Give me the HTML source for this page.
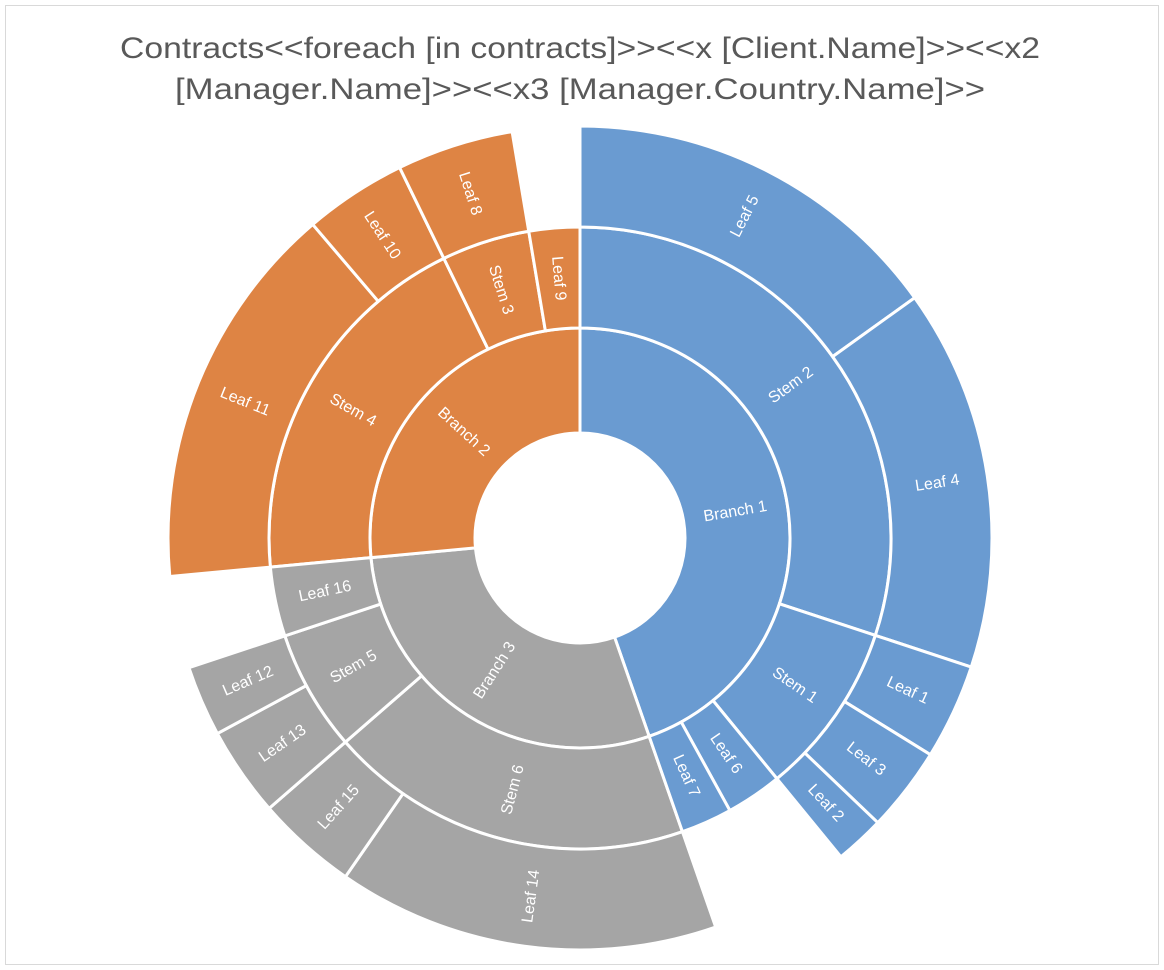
<!DOCTYPE html>
<html><head><meta charset="utf-8"><style>
html,body{margin:0;padding:0;background:#fff;}
svg{display:block;}
text{font-family:"Liberation Sans",sans-serif;}
</style></head><body>
<svg id="chart" width="1164" height="970" viewBox="0 0 1164 970">
<rect x="5.5" y="5.5" width="1153" height="959" fill="#fff" stroke="#d9d9d9"/>
<text x="580" y="58" text-anchor="middle" font-size="30" fill="#595959" textLength="920" lengthAdjust="spacingAndGlyphs">Contracts&lt;&lt;foreach [in contracts]&gt;&gt;&lt;&lt;x [Client.Name]&gt;&gt;&lt;&lt;x2</text>
<text x="580" y="99" text-anchor="middle" font-size="30" fill="#595959" textLength="810" lengthAdjust="spacingAndGlyphs">[Manager.Name]&gt;&gt;&lt;&lt;x3 [Manager.Country.Name]&gt;&gt;</text>
<g id="marks"></g>
</svg>
<script>
const leafNames  = ["Leaf 5","Leaf 4","Leaf 1","Leaf 3","Leaf 2","Leaf 6","Leaf 7","Leaf 14","Leaf 15","Leaf 13","Leaf 12","Leaf 16","Leaf 11","Leaf 10","Leaf 8","Leaf 9"];
const leafValues = [54.4, 54, 13.5, 12, 7, 10.5, 9.6, 54, 14.3, 12.7, 10, 13, 55, 14.5, 16.5, 9.5];
const leafStems  = ["Stem 2","Stem 2","Stem 1","Stem 1","Stem 1",null,null,"Stem 6","Stem 6","Stem 5","Stem 5",null,"Stem 4","Stem 4","Stem 3",null];
const leafBranches = ["Branch 1","Branch 1","Branch 1","Branch 1","Branch 1","Branch 1","Branch 1","Branch 3","Branch 3","Branch 3","Branch 3","Branch 3","Branch 2","Branch 2","Branch 2","Branch 2"];
const branchColors = {"Branch 1":"#6a9bd1","Branch 2":"#de8444","Branch 3":"#a5a5a5"};

const CX=580, CY=538, R=[105,210,311,412];
const svgNS="http://www.w3.org/2000/svg";
const g=document.getElementById('marks');
const total=leafValues.reduce((a,b)=>a+b,0);
const ang=v=>v/total*360;
function pt(r,a){const t=(a-90)*Math.PI/180;return [CX+r*Math.cos(t),CY+r*Math.sin(t)];}
function arcPath(r0,r1,a0,a1){
  const lg=(a1-a0)>180?1:0;
  const p0=pt(r1,a0),p1=pt(r1,a1),p2=pt(r0,a1),p3=pt(r0,a0);
  return `M${p0[0]},${p0[1]}A${r1},${r1} 0 ${lg} 1 ${p1[0]},${p1[1]}L${p2[0]},${p2[1]}A${r0},${r0} 0 ${lg} 0 ${p3[0]},${p3[1]}Z`;
}
function draw(name,level0,level1,a0,a1,color){
  const p=document.createElementNS(svgNS,'path');
  p.setAttribute('d',arcPath(R[level0],R[level1],a0,a1));
  p.setAttribute('fill',color);p.setAttribute('stroke','#fff');p.setAttribute('stroke-width','3');
  
  
  g.appendChild(p);
  const mid=(a0+a1)/2, rm=(R[level0]+R[level1])/2;
  const c=pt(rm,mid);
  const rot=mid<180?mid-90:mid-270;
  const t=document.createElementNS(svgNS,'text');
  t.setAttribute('x',c[0]);t.setAttribute('y',c[1]);
  t.setAttribute('text-anchor','middle');t.setAttribute('dominant-baseline','central');
  t.setAttribute('font-size','16');t.setAttribute('fill','#fff');
  t.setAttribute('transform',`rotate(${rot} ${c[0]} ${c[1]})`);
  t.textContent=name;
  
  
  g.appendChild(t);
}
let a=0;
const branchSpans={}, stemSpans={};
const leafSpans=[];
leafValues.forEach((v,i)=>{
  const a0=a,a1=a+ang(v);a=a1;leafSpans.push([a0,a1]);
  const b=leafBranches[i];
  if(!branchSpans[b])branchSpans[b]=[a0,a1];else branchSpans[b][1]=a1;
  const s=leafStems[i];
  if(s){if(!stemSpans[s])stemSpans[s]={span:[a0,a1],b:b};else stemSpans[s].span[1]=a1;}
});
Object.keys(branchSpans).forEach(b=>draw(b,0,1,branchSpans[b][0],branchSpans[b][1],branchColors[b]));
Object.keys(stemSpans).forEach(s=>draw(s,1,2,stemSpans[s].span[0],stemSpans[s].span[1],branchColors[stemSpans[s].b]));
leafNames.forEach((n,i)=>{
  const col=branchColors[leafBranches[i]];
  if(leafStems[i]) draw(n,2,3,leafSpans[i][0],leafSpans[i][1],col);
  else draw(n,1,2,leafSpans[i][0],leafSpans[i][1],col);
});
</script>
</body></html>
